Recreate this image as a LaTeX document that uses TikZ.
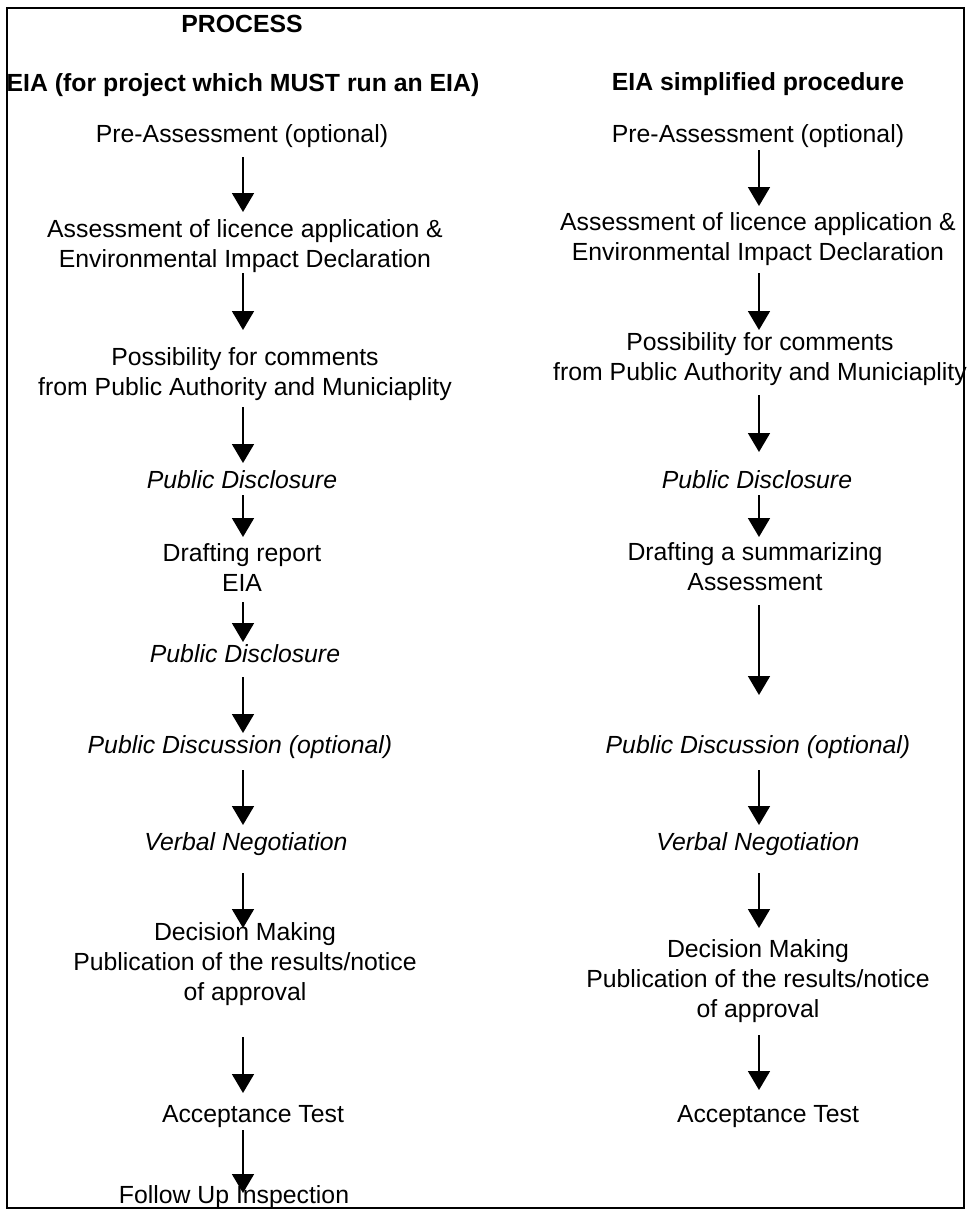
\documentclass[tikz,border=0pt]{standalone}
\usepackage{fontspec}
\setmainfont{Liberation Sans}
\usetikzlibrary{arrows.meta,calc}
\begin{document}
\begin{tikzpicture}[x=0.5pt,y=-0.5pt,
  txt/.style={inner sep=0pt, anchor=base, align=center, font=\fontsize{12.4}{15}\selectfont},
  head/.style={txt, font=\fontsize{12.4}{15}\selectfont\bfseries},
  emph/.style={txt, font=\fontsize{12.4}{15}\selectfont\itshape},
  arr/.style={line width=0.9pt, -{Triangle[width=11pt,length=9.5pt]}},
  frame/.style={line width=1.25pt}]
\useasboundingbox (0,0) rectangle (971,1212);
\draw[frame] (7,8) rectangle (964,1208);

% column axes
\coordinate (cl) at (243,0);
\coordinate (cr) at (759,0);

% headings
\node[head] (title) at (242,32) {PROCESS};
\node[head] (hl) at (243,91) {EIA (for project which MUST run an EIA)};
\node[head] (hr) at (758,90) {EIA simplified procedure};

% full procedure (multi-line nodes sit on their last baseline)
\node[txt]  (L1)  at (242,142)  {Pre-Assessment (optional)};
\node[txt]  (L2)  at (245,267)  {Assessment of licence application \&\\Environmental Impact Declaration};
\node[txt]  (L3)  at (245,395)  {Possibility for comments\\from Public Authority and Municiaplity};
\node[emph] (L4)  at (242,488)  {Public Disclosure};
\node[txt]  (L5)  at (242,591)  {Drafting report\\EIA};
\node[emph] (L6)  at (245,662)  {Public Disclosure};
\node[emph] (L7)  at (240,753)  {Public Discussion (optional)};
\node[emph] (L8)  at (246,850)  {Verbal Negotiation};
\node[txt]  (L9)  at (245,1000) {Decision Making\\Publication of the results/notice\\of approval};
\node[txt]  (L10) at (253,1122) {Acceptance Test};
\node[txt]  (L11) at (234,1203) {Follow Up Inspection};

\draw[arr] ($(L1.base -| cl)+(0,15)$) -- ($(L2.base -| cl)+(0,-55)$);
\draw[arr] ($(L2.base -| cl)+(0,6)$)  -- ($(L3.base -| cl)+(0,-65)$);
\draw[arr] ($(L3.base -| cl)+(0,12)$) -- ($(L4.base -| cl)+(0,-25)$);
\draw[arr] ($(L4.base -| cl)+(0,7)$)  -- ($(L5.base -| cl)+(0,-54)$);
\draw[arr] ($(L5.base -| cl)+(0,11)$) -- ($(L6.base -| cl)+(0,-20)$);
\draw[arr] ($(L6.base -| cl)+(0,15)$) -- ($(L7.base -| cl)+(0,-20)$);
\draw[arr] ($(L7.base -| cl)+(0,17)$) -- ($(L8.base -| cl)+(0,-25)$);
\draw[arr] ($(L8.base -| cl)+(0,23)$) -- ($(L9.base -| cl)+(0,-72)$);
\draw[arr] ($(L9.base -| cl)+(0,37)$) -- ($(L10.base -| cl)+(0,-29)$);
\draw[arr] ($(L10.base -| cl)+(0,8)$) -- ($(L11.base -| cl)+(0,-10)$);

% simplified procedure
\node[txt]  (R1) at (758,142)  {Pre-Assessment (optional)};
\node[txt]  (R2) at (758,260)  {Assessment of licence application \&\\Environmental Impact Declaration};
\node[txt]  (R3) at (760,380)  {Possibility for comments\\from Public Authority and Municiaplity};
\node[emph] (R4) at (757,488)  {Public Disclosure};
\node[txt]  (R5) at (755,590)  {Drafting a summarizing\\Assessment};
\node[emph] (R6) at (758,753)  {Public Discussion (optional)};
\node[emph] (R7) at (758,850)  {Verbal Negotiation};
\node[txt]  (R8) at (758,1017) {Decision Making\\Publication of the results/notice\\of approval};
\node[txt]  (R9) at (768,1122) {Acceptance Test};

\draw[arr] ($(R1.base -| cr)+(0,8)$)  -- ($(R2.base -| cr)+(0,-54)$);
\draw[arr] ($(R2.base -| cr)+(0,13)$) -- ($(R3.base -| cr)+(0,-50)$);
\draw[arr] ($(R3.base -| cr)+(0,15)$) -- ($(R4.base -| cr)+(0,-36)$);
\draw[arr] ($(R4.base -| cr)+(0,7)$)  -- ($(R5.base -| cr)+(0,-53)$);
\draw[arr] ($(R5.base -| cr)+(0,15)$) -- ($(R6.base -| cr)+(0,-58)$);
\draw[arr] ($(R6.base -| cr)+(0,17)$) -- ($(R7.base -| cr)+(0,-25)$);
\draw[arr] ($(R7.base -| cr)+(0,23)$) -- ($(R8.base -| cr)+(0,-89)$);
\draw[arr] ($(R8.base -| cr)+(0,18)$) -- ($(R9.base -| cr)+(0,-32)$);
\end{tikzpicture}
\end{document}
